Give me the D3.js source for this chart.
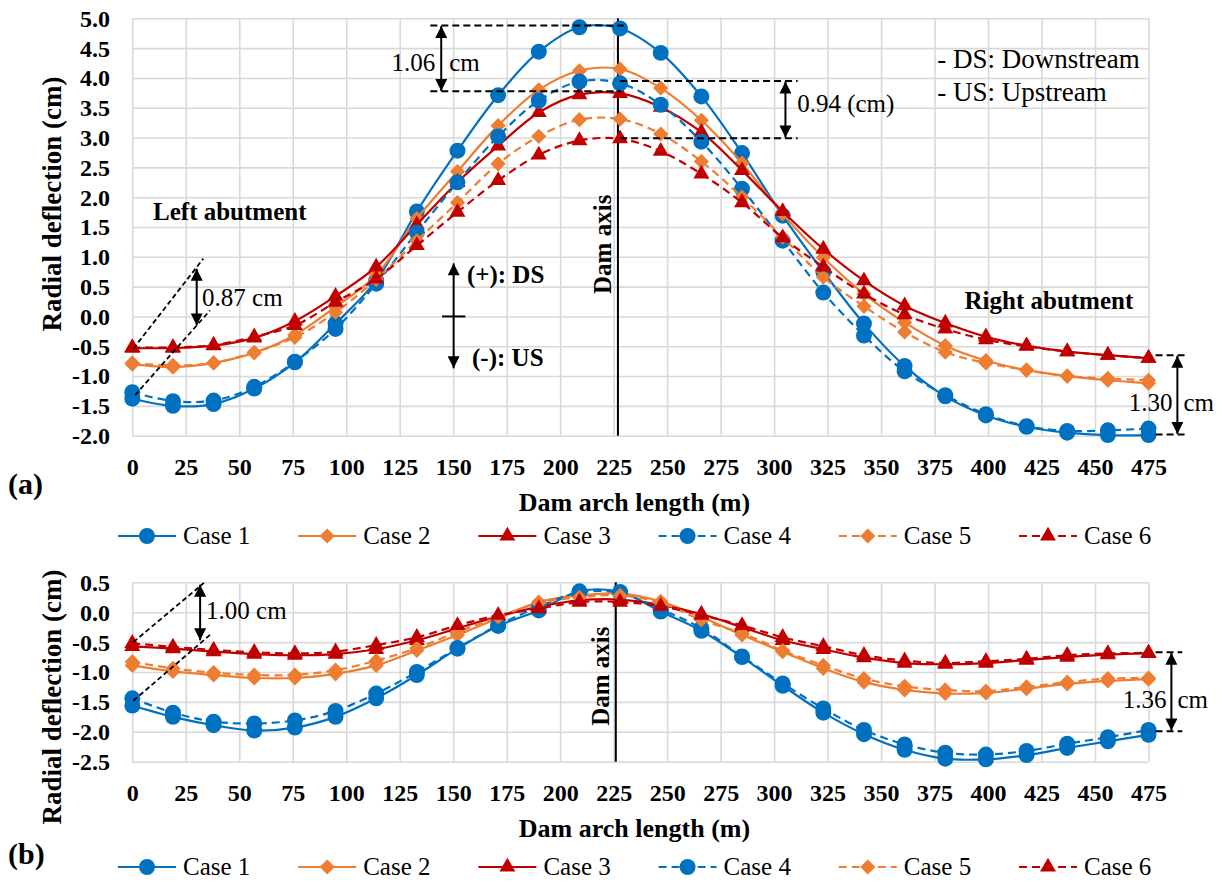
<!DOCTYPE html>
<html><head><meta charset="utf-8">
<script src="https://cdn.jsdelivr.net/npm/d3@7"></script>
<style>body{margin:0;background:#fff} svg text{font-family:'Liberation Serif','Times New Roman',Tinos,'DejaVu Serif',serif !important;fill:#000}</style>
</head><body><svg id="c" width="1224" height="882"></svg>
<script>
// ---------- DATA ----------
const distance = [0,19,38,57,76,95,114,133,152,171,190,209,228,247,266,285,304,323,342,361,380,399,418,437,456,475];
const xTickValues = [0,25,50,75,100,125,150,175,200,225,250,275,300,325,350,375,400,425,450,475];
const yTickValuesA = [-2,-1.5,-1,-0.5,0,0.5,1,1.5,2,2.5,3,3.5,4,4.5,5];
const yTickValuesB = [-2.5,-2,-1.5,-1,-0.5,0,0.5];
const caseLabels = ["Case 1","Case 2","Case 3","Case 4","Case 5","Case 6"];

// (a)
const a1 = [-1.38,-1.50,-1.47,-1.21,-0.77,-0.12,0.60,1.76,2.78,3.71,4.44,4.85,4.83,4.42,3.69,2.74,1.69,0.75,-0.12,-0.83,-1.34,-1.66,-1.85,-1.95,-1.99,-1.99];
const a2 = [-0.80,-0.85,-0.78,-0.61,-0.31,0.16,0.69,1.64,2.43,3.20,3.80,4.12,4.15,3.83,3.29,2.57,1.72,0.99,0.38,-0.10,-0.49,-0.74,-0.90,-1.00,-1.07,-1.12];
const a3 = [-0.53,-0.53,-0.49,-0.36,-0.08,0.34,0.83,1.54,2.25,2.86,3.42,3.72,3.74,3.51,3.09,2.45,1.76,1.13,0.60,0.18,-0.11,-0.34,-0.49,-0.59,-0.65,-0.70];
const a4 = [-1.27,-1.42,-1.41,-1.18,-0.76,-0.21,0.55,1.41,2.25,3.02,3.62,3.94,3.91,3.55,2.93,2.14,1.27,0.40,-0.32,-0.92,-1.32,-1.64,-1.84,-1.92,-1.91,-1.88];
const a5 = [-0.78,-0.82,-0.78,-0.60,-0.35,0.07,0.62,1.27,1.91,2.56,3.02,3.30,3.31,3.06,2.60,2.00,1.33,0.66,0.17,-0.26,-0.60,-0.78,-0.90,-1.00,-1.04,-1.07];
const a6 = [-0.52,-0.52,-0.48,-0.34,-0.15,0.24,0.63,1.19,1.75,2.28,2.71,2.95,2.98,2.77,2.39,1.91,1.32,0.83,0.38,0.03,-0.21,-0.39,-0.50,-0.59,-0.65,-0.70];

// (b)
const b1 = [-1.56,-1.75,-1.89,-1.98,-1.93,-1.75,-1.44,-1.05,-0.61,-0.23,0.03,0.35,0.34,0.01,-0.31,-0.75,-1.23,-1.68,-2.04,-2.30,-2.45,-2.46,-2.39,-2.27,-2.16,-2.05];
const b2 = [-0.89,-0.99,-1.05,-1.10,-1.10,-1.03,-0.89,-0.64,-0.38,-0.10,0.17,0.28,0.31,0.18,-0.08,-0.38,-0.66,-0.94,-1.17,-1.30,-1.36,-1.35,-1.28,-1.20,-1.15,-1.12];
const b3 = [-0.57,-0.61,-0.66,-0.70,-0.72,-0.70,-0.62,-0.47,-0.27,-0.07,0.09,0.20,0.21,0.12,-0.03,-0.25,-0.47,-0.62,-0.76,-0.85,-0.87,-0.85,-0.80,-0.75,-0.71,-0.69];
const b4 = [-1.44,-1.68,-1.83,-1.86,-1.81,-1.65,-1.36,-1.00,-0.60,-0.22,0.09,0.33,0.32,0.05,-0.27,-0.74,-1.19,-1.61,-1.97,-2.21,-2.35,-2.38,-2.32,-2.20,-2.09,-1.97];
const b5 = [-0.83,-0.94,-1.01,-1.05,-1.05,-0.97,-0.81,-0.60,-0.33,-0.08,0.15,0.25,0.28,0.16,-0.13,-0.35,-0.64,-0.89,-1.11,-1.24,-1.30,-1.32,-1.25,-1.17,-1.11,-1.10];
const b6 = [-0.52,-0.58,-0.63,-0.67,-0.69,-0.66,-0.55,-0.42,-0.22,-0.05,0.06,0.17,0.17,0.10,-0.05,-0.22,-0.42,-0.57,-0.72,-0.81,-0.85,-0.82,-0.78,-0.72,-0.69,-0.68];

const seriesA = [a1,a2,a3,a4,a5,a6];
const seriesB = [b1,b2,b3,b4,b5,b6];

// ---------- STYLE ----------
const COLORS = ["#0070C0","#ED7D31","#C00000"];
const FONT_TICK = 24, FONT_TITLE = 26, FONT_ANN = 25;
const FAMILY = "'Liberation Serif','Times New Roman',Tinos,'DejaVu Serif',serif";

const svg = d3.select("#c").attr("font-family",FAMILY);
svg.append("rect").attr("width",1224).attr("height",882).attr("fill","#fff");
const defs = svg.append("defs");
defs.append("marker").attr("id","ah").attr("viewBox","0 0 10 10").attr("refX",10).attr("refY",5)
  .attr("markerWidth",13).attr("markerHeight",12).attr("markerUnits","userSpaceOnUse")
  .attr("orient","auto-start-reverse")
  .append("path").attr("d","M0,0L10,5L0,10Z").attr("fill","#000");

const x = d3.scaleLinear().domain([0,475]).range([132.3,1148.5]);
const yA = d3.scaleLinear().domain([-2,5]).range([435.7,18.3]);
const yB = d3.scaleLinear().domain([-2.5,0.5]).range([761.7,582.3]);

const fmt = v => v.toFixed(1);

function symbolFor(i){
  const k = i % 3;
  if (k === 0) return {path: d3.symbol(d3.symbolCircle,200)(), rot:0};
  if (k === 1) return {path: d3.symbol(d3.symbolSquare,115)(), rot:45};
  return {path: d3.symbol(d3.symbolTriangle,110)(), rot:0};
}

function panel(y, series, yTicks, opts){
  const g = svg.append("g");
  const [top, bottom] = [y.range()[1], y.range()[0]];
  g.append("g").attr("transform",`translate(${x.range()[0]},0)`)
    .call(d3.axisLeft(y).tickValues(yTicks).tickSize(-(x.range()[1]-x.range()[0])).tickFormat(""))
    .call(s=>s.select(".domain").remove())
    .call(s=>s.selectAll("line").attr("stroke","#d9d9d9").attr("stroke-width",1.6));
  g.append("g").attr("transform",`translate(0,${bottom})`)
    .call(d3.axisBottom(x).tickValues(xTickValues).tickSize(-(bottom-top)).tickFormat(""))
    .call(s=>s.select(".domain").remove())
    .call(s=>s.selectAll("line").attr("stroke","#d9d9d9").attr("stroke-width",1.6));
  g.append("g").attr("transform",`translate(110,0)`)
    .call(d3.axisLeft(y).tickValues(yTicks).tickSize(0).tickPadding(0).tickFormat(fmt))
    .attr("font-family",FAMILY)
    .call(s=>s.select(".domain").remove())
    .call(s=>s.selectAll("text").attr("font-size",FONT_TICK).attr("font-weight","bold").attr("fill","#000").attr("dy","0.33em"));
  g.append("g").attr("transform",`translate(0,${bottom+31})`)
    .call(d3.axisBottom(x).tickValues(xTickValues).tickSize(0).tickPadding(0).tickFormat(d=>String(d)))
    .attr("font-family",FAMILY)
    .call(s=>s.select(".domain").remove())
    .call(s=>s.selectAll("text").attr("font-size",FONT_TICK).attr("font-weight","bold").attr("fill","#000").attr("dy","0.33em"));
  svg.append("text").attr("transform",`translate(52,${opts.yTitleY}) rotate(-90)`)
    .attr("text-anchor","middle").attr("dy","0.33em").attr("font-size",27).attr("font-weight","bold")
    .text("Radial deflection (cm)");
  svg.append("text").attr("x",634.5).attr("y",opts.xTitleY).attr("text-anchor","middle").attr("dy","0.33em")
    .attr("font-size",FONT_TITLE).attr("font-weight","bold").text("Dam arch length (m)");
  svg.append("text").attr("x",8).attr("y",opts.tagY).attr("dy","0.3em")
    .attr("font-size",30).attr("font-weight","bold").text(opts.tag);
  g.append("line").attr("x1",x(opts.damAxis)).attr("x2",x(opts.damAxis)).attr("y1",top).attr("y2",bottom)
    .attr("stroke","#000").attr("stroke-width",2);
  g.append("text").attr("transform",`translate(${x(opts.damText[0])},${y(opts.damText[1])}) rotate(-90)`)
    .attr("text-anchor","middle").attr("dy","0.33em").attr("font-size",FONT_ANN).attr("font-weight","bold").text("Dam axis");
  const line = d3.line().x((d,i)=>x(distance[i])).y(d=>y(d)).curve(d3.curveCatmullRom);
  series.forEach((vals,i)=>{
    const col = COLORS[i%3];
    const sg = g.append("g");
    sg.append("path").attr("d",line(vals)).attr("fill","none").attr("stroke",col).attr("stroke-width",2.2)
      .attr("stroke-dasharray", i>=3 ? "8,5" : null);
    const sym = symbolFor(i);
    sg.selectAll("path.m").data(vals).join("path").attr("class","m").attr("d",sym.path).attr("fill",col)
      .attr("transform",(d,j)=>`translate(${x(distance[j])},${y(d)}) rotate(${sym.rot})`);
  });
  const lg = svg.append("g");
  caseLabels.forEach((lab,i)=>{
    const x0 = 118 + i*180.2, col = COLORS[i%3];
    lg.append("line").attr("x1",x0).attr("x2",x0+58).attr("y1",opts.legendY).attr("y2",opts.legendY)
      .attr("stroke",col).attr("stroke-width",2.2).attr("stroke-dasharray", i>=3 ? "8,5" : null);
    const sym = symbolFor(i);
    lg.append("path").attr("d",sym.path).attr("fill",col)
      .attr("transform",`translate(${x0+29},${opts.legendY}) rotate(${sym.rot})`);
    lg.append("text").attr("x",x0+65).attr("y",opts.legendY).attr("dy","0.33em")
      .attr("font-size",FONT_ANN).text(lab);
  });
  return g;
}

function dline(g,y,p1,p2,dash,w){
  g.append("line").attr("x1",x(p1[0])).attr("y1",y(p1[1])).attr("x2",x(p2[0])).attr("y2",y(p2[1]))
    .attr("stroke","#000").attr("stroke-width",w||2).attr("stroke-dasharray",dash||"7,4");
}
function arrow(g,y,xv,y1,y2){
  g.append("line").attr("x1",x(xv)).attr("x2",x(xv)).attr("y1",y(y1)).attr("y2",y(y2))
    .attr("stroke","#000").attr("stroke-width",2).attr("marker-start","url(#ah)").attr("marker-end","url(#ah)");
}
function label(g,y,xv,yv,txt,anchor,dx,opt){
  const t = g.append("text").attr("x",x(xv)+(dx||0)).attr("y",y(yv)).attr("dy","0.33em")
    .attr("text-anchor",anchor||"start").attr("font-size",(opt&&opt.size)||FONT_ANN).text(txt);
  if (opt && opt.bold) t.attr("font-weight","bold");
  return t;
}

// ---------- PANEL (a) ----------
const gA = panel(yA, seriesA, yTickValuesA, {yTitleY:204, xTitleY:502, tag:"(a)", tagY:485, legendY:536, damAxis:227, damText:[219.7,1.21]});
const annA = svg.append("g");
dline(annA,yA,[139.3,4.88],[229.7,4.88]);
dline(annA,yA,[139.3,3.775],[228.5,3.775]);
dline(annA,yA,[228,3.95],[311,3.95]);
dline(annA,yA,[228,2.99],[311,2.99]);
arrow(annA,yA,144.4,4.87,3.78);
label(annA,yA,144.4,4.26,"1.06","end",-6);
label(annA,yA,144.4,4.26,"cm","start",8);
arrow(annA,yA,305.3,3.94,3.0);
label(annA,yA,310.8,3.57,"0.94 (cm)");
label(annA,yA,376.3,4.32,"- DS: Downstream","start",0,{size:27});
label(annA,yA,376.3,3.77,"- US: Upstream","start",0,{size:27});
label(annA,yA,9.7,1.75,"Left abutment","start",0,{bold:true});
label(annA,yA,389,0.27,"Right abutment","start",0,{bold:true});
dline(annA,yA,[0.5,-0.54],[33.2,0.97],"5,3",1.8);
dline(annA,yA,[1.3,-1.32],[36.3,0.10],"5,3",1.8);
arrow(annA,yA,30.1,0.80,-0.15);
label(annA,yA,32.6,0.32,"0.87 cm");
dline(annA,yA,[478.3,-0.65],[493.2,-0.65]);
dline(annA,yA,[478.3,-1.98],[493.2,-1.98]);
arrow(annA,yA,488.5,-0.66,-1.97);
label(annA,yA,488.5,-1.44,"1.30","end",-5);
label(annA,yA,488.5,-1.44,"cm","start",6);
arrow(annA,yA,150.2,0.89,-0.87);
annA.append("line").attr("x1",x(144.8)).attr("x2",x(155.7)).attr("y1",yA(0)).attr("y2",yA(0)).attr("stroke","#000").attr("stroke-width",2);
label(annA,yA,156.4,0.70,"(+): DS","start",0,{bold:true});
label(annA,yA,158.8,-0.69,"(-): US","start",0,{bold:true});

// ---------- PANEL (b) ----------
const gB = panel(yB, seriesB, yTickValuesB, {yTitleY:697, xTitleY:828, tag:"(b)", tagY:855, legendY:867, damAxis:226, damText:[218.8,-1.07]});
const annB = svg.append("g");
dline(annB,yB,[0.5,-0.50],[33.5,0.49],"5,3",1.8);
dline(annB,yB,[0.5,-1.48],[36.3,-0.38],"5,3",1.8);
arrow(annB,yB,31.7,0.46,-0.47);
label(annB,yB,34.5,0.03,"1.00 cm");
dline(annB,yB,[478.3,-0.67],[490.8,-0.67]);
dline(annB,yB,[478.3,-1.99],[490.8,-1.99]);
arrow(annB,yB,485.7,-0.68,-1.98);
label(annB,yB,485.7,-1.47,"1.36","end",-5);
label(annB,yB,485.7,-1.47,"cm","start",6);
</script></body></html>
